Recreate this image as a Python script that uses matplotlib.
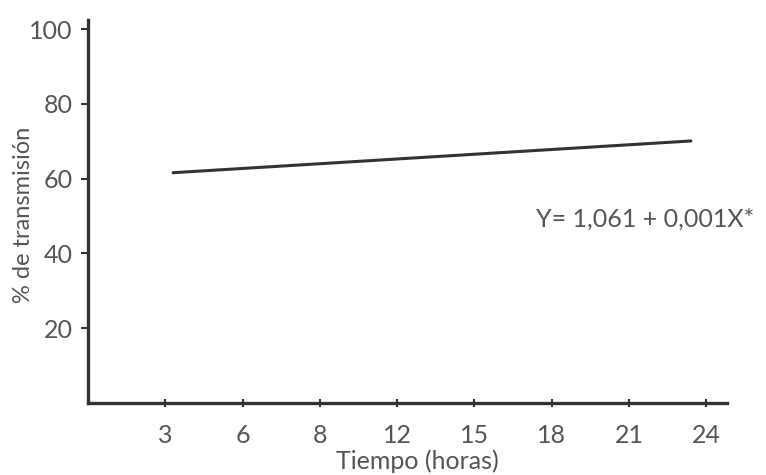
import matplotlib
matplotlib.use('Agg')
import matplotlib.pyplot as plt

# ajuste lineal: extremos
tiempo = [3.3, 23.4]
transmision = [61.6, 70.1]

x_ticks = [3, 6, 9, 12, 15, 18, 21, 24]
x_labels = ['3', '6', '8', '12', '15', '18', '21', '24']
y_ticks = [20, 40, 60, 80, 100]

plt.rcParams['font.family'] = ['Lato', 'DejaVu Sans']
gris = '#555555'

fig = plt.figure(figsize=(7.66, 4.75), dpi=100)
ax = fig.add_axes([0.115, 0.152, 0.834, 0.806])

ax.plot(tiempo, transmision, color='#333333', lw=2.2, solid_capstyle='round')

ax.set_xlim(0, 24.8)
ax.set_ylim(0, 102.5)
ax.set_xticks(x_ticks)
ax.set_xticklabels(x_labels)
ax.set_yticks(y_ticks)

for s in ['top', 'right']:
    ax.spines[s].set_visible(False)
for s in ['left', 'bottom']:
    ax.spines[s].set_linewidth(2.4)
    ax.spines[s].set_color('#333333')

ax.tick_params(axis='y', direction='out', length=5, width=1.5, color='#333333',
               labelsize=18, labelcolor=gris, pad=6)
ax.tick_params(axis='x', direction='inout', length=6, width=1.5, color='#333333',
               labelsize=18, labelcolor=gris, pad=12)

ax.set_xlabel('Tiempo (horas)', fontsize=18, color=gris)
ax.xaxis.set_label_coords(0.515, -0.122)
ax.set_ylabel('% de transmisión', fontsize=17, color=gris)
ax.yaxis.set_label_coords(-0.085, 0.49)

ax.text(17.4, 49.3, 'Y= 1,061 + 0,001X*', fontsize=18, color=gris, va='center', ha='left')

fig.savefig('out.png', dpi=100)
